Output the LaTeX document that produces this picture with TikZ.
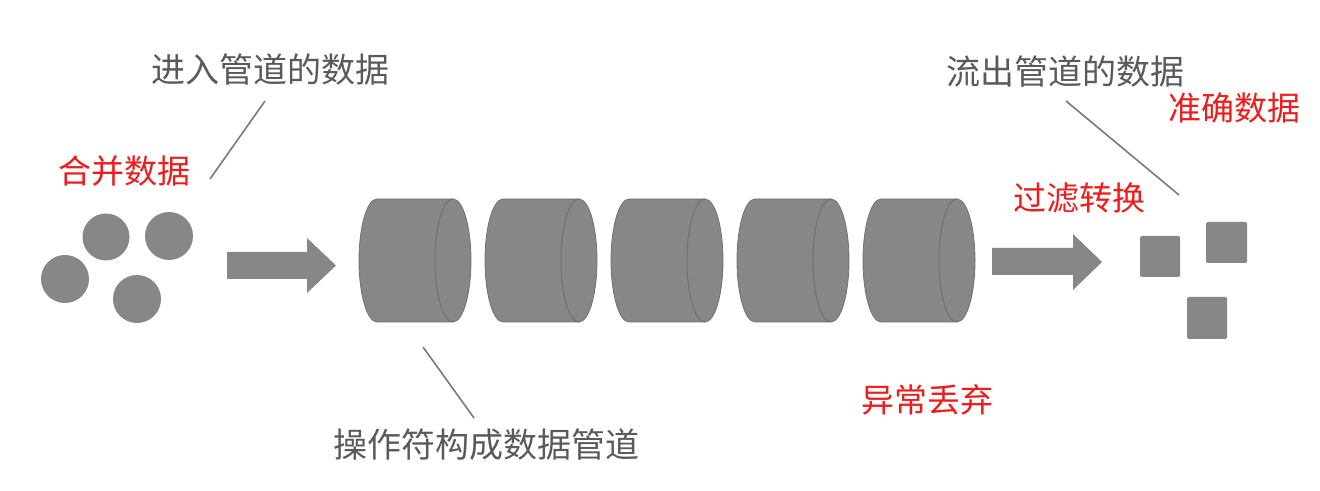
\documentclass[tikz,border=0pt]{standalone}
\usepackage{fontspec}
\newfontfamily\cjk{Noto Sans CJK SC}
\definecolor{shapegray}{HTML}{878787}
\definecolor{edgegray}{HTML}{707070}
\definecolor{textgray}{HTML}{5A5A5A}
\definecolor{leadgray}{HTML}{7A7A7A}
\definecolor{redtxt}{HTML}{EE1C1C}
\begin{document}
\begin{tikzpicture}[x=1pt,y=1pt,
  graytext/.style={inner sep=0pt, text=textgray, font=\cjk\fontsize{34}{40}\selectfont},
  redtext/.style={inner sep=0pt, text=redtxt, font=\cjk\fontsize{33}{40}\selectfont},
  leader/.style={draw=leadgray, line width=1.6pt},
  blob/.style={fill=shapegray, draw=none},
  cyl/.pic={
    \fill[shapegray, draw=edgegray, line width=0.8pt] (18,123) -- (94,123)
      arc[start angle=90, end angle=-90, x radius=18, y radius=61.5] -- (18,0)
      arc[start angle=270, end angle=90, x radius=18, y radius=61.5] -- cycle;
    \draw[edgegray, line width=1pt] (94,123)
      arc[start angle=90, end angle=270, x radius=18, y radius=61.5];
  }]
\useasboundingbox (0,0) rectangle (1320,490);
\fill[white] (0,0) rectangle (1320,490);

% input circles
\fill[blob] (106,253) circle[radius=23.5];
\fill[blob] (169,254) circle[radius=24];
\fill[blob] (65,211) circle[radius=24];
\fill[blob] (137,191) circle[radius=24];

% arrows
\fill[blob] (227,211) -- (307,211) -- (307,197) -- (336,224.5) -- (307,252) -- (307,238) -- (227,238) -- cycle;
\fill[blob] (992,215) -- (1073,215) -- (1073,200) -- (1102,228) -- (1073,256) -- (1073,242) -- (992,242) -- cycle;

% cylinders
\foreach \L/\n in {359/1,485/2,611/3,737/4,863/5}
  \pic (cyl\n) at (\L,168) {cyl};

% output squares
\fill[blob, rounded corners=1.5pt] (1140,213) rectangle (1180,254);
\fill[blob, rounded corners=1.5pt] (1206,227) rectangle (1247,268);
\fill[blob, rounded corners=1.5pt] (1187,151) rectangle (1227,193);

% texts
\node[graytext] (tin) at (270,420) {进入管道的数据};
\node[graytext] (tout) at (1065,418) {流出管道的数据};
\node[graytext] (tpipe) at (486,45) {操作符构成数据管道};
\node[redtext] (tmerge) at (124,319) {合并数据};
\node[redtext] (tok) at (1234,382) {准确数据};
\node[redtext] (tfilt) at (1079,292) {过滤转换};
\node[redtext] (terr) at (927,90) {异常丢弃};

% leader lines
\coordinate (l1a) at (265,389);
\coordinate (l1b) at (210,311);
\coordinate (l2a) at (1066,389);
\coordinate (l2b) at (1179,295);
\coordinate (l3a) at (423,143);
\coordinate (l3b) at (474,72);
\draw[leader] (l1a) -- (l1b);
\draw[leader] (l2a) -- (l2b);
\draw[leader] (l3a) -- (l3b);
\end{tikzpicture}
\end{document}
